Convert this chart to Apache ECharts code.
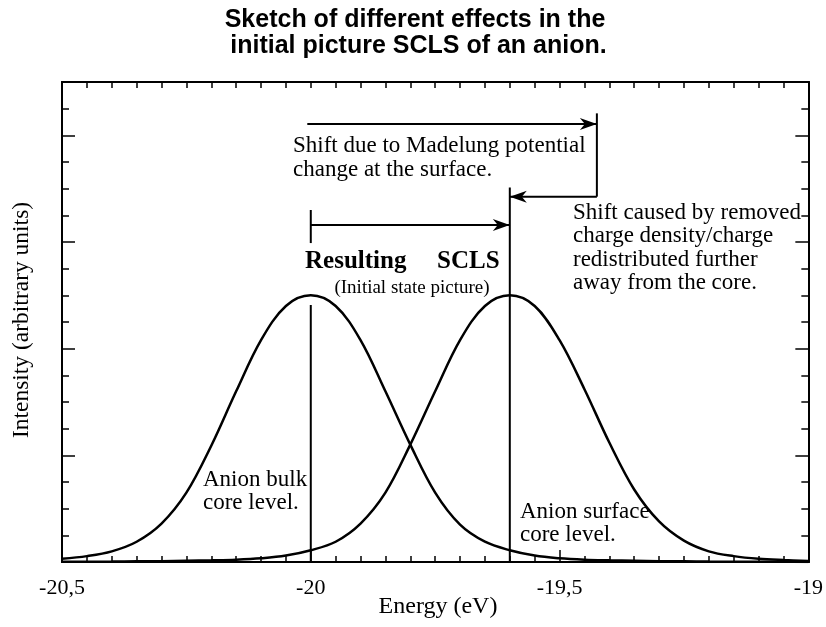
<!DOCTYPE html>
<html>
<head>
<meta charset="utf-8">
<title>SCLS sketch</title>
<script src="https://cdn.jsdelivr.net/npm/echarts@6.0.0/dist/echarts.min.js"></script>
<style>
    html, body { margin: 0; padding: 0; background: #fff; }
    #main { width: 826px; height: 627px; }
</style>
</head>
<body>
<div id="main"></div>
<script>
// energy grid (eV) and the two peaks
var energy = [-20.5, -20.45, -20.4, -20.35, -20.3, -20.25, -20.2, -20.15, -20.1, -20.05,
    -20.0, -19.95, -19.9, -19.85, -19.8, -19.75, -19.7, -19.65, -19.6, -19.55,
    -19.5, -19.45, -19.4, -19.35, -19.3, -19.25, -19.2, -19.15, -19.1, -19.05, -19.0];
var bulkLevel = [0.03, 0.055, 0.1, 0.19, 0.36, 0.65, 1.09, 1.6, 2.08, 2.4,
    2.5, 2.4, 2.08, 1.6, 1.1, 0.65, 0.35, 0.19, 0.11, 0.06,
    0.035, 0.022, 0.016, 0.012, 0.008, 0.006, 0.004, 0.003, 0.002, 0.002, 0.001];
var surfaceLevel = [0.002, 0.003, 0.004, 0.006, 0.008, 0.012, 0.016, 0.022, 0.035, 0.06,
    0.11, 0.19, 0.36, 0.65, 1.1, 1.6, 2.08, 2.4, 2.5, 2.4,
    2.08, 1.62, 1.12, 0.68, 0.38, 0.2, 0.1, 0.055, 0.03, 0.018, 0.01];
var tickLabels = { '-20.5': '-20,5', '-20': '-20', '-19.5': '-19,5', '-19': '-19' };

// annotation segments: x1, y1, x2, y2, arrow at end (1/0)
var segments = [
    [-20.007, 4.106, -19.425, 4.106, 1],
    [-19.425, 4.206, -19.425, 3.425, 0],
    [-19.425, 3.425, -19.6, 3.425, 1],
    [-19.6, 3.512, -19.6, 0, 0],
    [-20.0, 3.30, -20.0, 2.99, 0],
    [-20.0, 3.16, -19.6, 3.16, 1],
    [-20.0, 2.41, -20.0, 0, 0]
];

function pairs(xs, ys) {
    var out = [];
    for (var i = 0; i < xs.length; i++) {
        out.push([xs[i], ys[i]]);
    }
    return out;
}

var serif = 'Liberation Serif';
var black = '#000';

function xAx(pos, majorLen, labels) {
    return {
        type: 'value', position: pos, min: -20.5, max: -19, interval: 0.5,
        axisLine: { show: true, onZero: false, lineStyle: { color: black, width: 2 } },
        axisTick: { show: true, inside: true, length: majorLen, lineStyle: { color: black, width: 1.5 } },
        minorTick: { show: true, splitNumber: 10, length: 6, lineStyle: { color: black, width: 1.5 } },
        splitLine: { show: false },
        axisLabel: {
            show: labels, margin: 15, color: black, fontFamily: serif, fontSize: 22,
            formatter: function (v) { return tickLabels[String(v)] || String(v).replace('.', ','); }
        }
    };
}

function yAx(pos, step, len) {
    return {
        type: 'value', position: pos, min: 0, max: 4.5, interval: step,
        axisLine: { show: true, onZero: false, lineStyle: { color: black, width: 2 } },
        axisTick: { show: true, inside: true, length: len, lineStyle: { color: black, width: 1.5 } },
        splitLine: { show: false },
        axisLabel: { show: false }
    };
}

function txt(x, y, s, size, opt) {
    var st = {
        text: s, fill: black, fontFamily: serif, fontSize: size,
        lineHeight: (opt && opt.lh) || size, align: (opt && opt.align) || 'left',
        verticalAlign: (opt && opt.va) || 'top', fontWeight: (opt && opt.bold) ? 'bold' : 'normal'
    };
    if (opt && opt.family) st.fontFamily = opt.family;
    return { type: 'text', x: x, y: y, rotation: (opt && opt.rot) || 0, z: 100, style: st };
}

var myChart = echarts.init(document.getElementById('main'), null, { renderer: 'canvas' });

var option = {
    animation: false,
    backgroundColor: '#fff',
    grid: { left: 62, right: 14, top: 82, bottom: 65 },
    xAxis: [xAx('bottom', 12, true), xAx('top', 6, false)],
    yAxis: [yAx('left', 1, 13), yAx('left', 0.25, 7), yAx('right', 1, 13), yAx('right', 0.25, 7)],
    graphic: [
        txt(415, 7, 'Sketch of different effects in the\n initial picture SCLS of an anion.', 25,
            { align: 'center', lh: 26, bold: true, family: 'Liberation Sans' }),
        txt(293, 134, 'Shift due to Madelung potential\nchange at the surface.', 23, { lh: 24 }),
        txt(573, 201, 'Shift caused by removed\ncharge density/charge\nredistributed further\naway from the core.', 23, { lh: 23.5 }),
        txt(305, 262, 'Resulting', 25, { va: 'middle', bold: true }),
        txt(437, 262, 'SCLS', 25, { va: 'middle', bold: true }),
        txt(412, 288, '(Initial state picture)', 19, { va: 'middle', align: 'center' }),
        txt(203, 468, 'Anion bulk\ncore level.', 23, { lh: 23 }),
        txt(520, 500, 'Anion surface\ncore level.', 23, { lh: 23 }),
        txt(22, 320, 'Intensity (arbitrary units)', 23.5, { va: 'middle', align: 'center', rot: Math.PI / 2 }),
        txt(438, 607, 'Energy (eV)', 24, { va: 'middle', align: 'center' })
    ],
    series: [
        {
            name: 'bulk', type: 'line', xAxisIndex: 0, yAxisIndex: 0,
            data: pairs(energy, bulkLevel), smooth: 0.35, showSymbol: false, silent: true,
            lineStyle: { color: black, width: 2.5 }
        },
        {
            name: 'surface', type: 'line', xAxisIndex: 0, yAxisIndex: 0,
            data: pairs(energy, surfaceLevel), smooth: 0.35, showSymbol: false, silent: true,
            lineStyle: { color: black, width: 2.5 }
        },
        {
            name: 'arrows', type: 'custom', xAxisIndex: 0, yAxisIndex: 0, clip: false, silent: true,
            data: segments,
            renderItem: function (params, api) {
                var p1 = api.coord([api.value(0), api.value(1)]);
                var p2 = api.coord([api.value(2), api.value(3)]);
                var kids = [{
                    type: 'line',
                    shape: { x1: p1[0], y1: p1[1], x2: p2[0], y2: p2[1] },
                    style: { stroke: black, lineWidth: 2 }
                }];
                if (api.value(4)) {
                    var dx = p2[0] - p1[0], dy = p2[1] - p1[1];
                    var len = Math.sqrt(dx * dx + dy * dy);
                    var ux = dx / len, uy = dy / len, nx = -uy, ny = ux;
                    kids.push({
                        type: 'polygon',
                        shape: {
                            points: [
                                [p2[0], p2[1]],
                                [p2[0] - 17 * ux + 6 * nx, p2[1] - 17 * uy + 6 * ny],
                                [p2[0] - 12 * ux, p2[1] - 12 * uy],
                                [p2[0] - 17 * ux - 6 * nx, p2[1] - 17 * uy - 6 * ny]
                            ]
                        },
                        style: { fill: black }
                    });
                }
                return { type: 'group', children: kids };
            }
        }
    ]
};
myChart.setOption(option);
</script>
</body>
</html>
